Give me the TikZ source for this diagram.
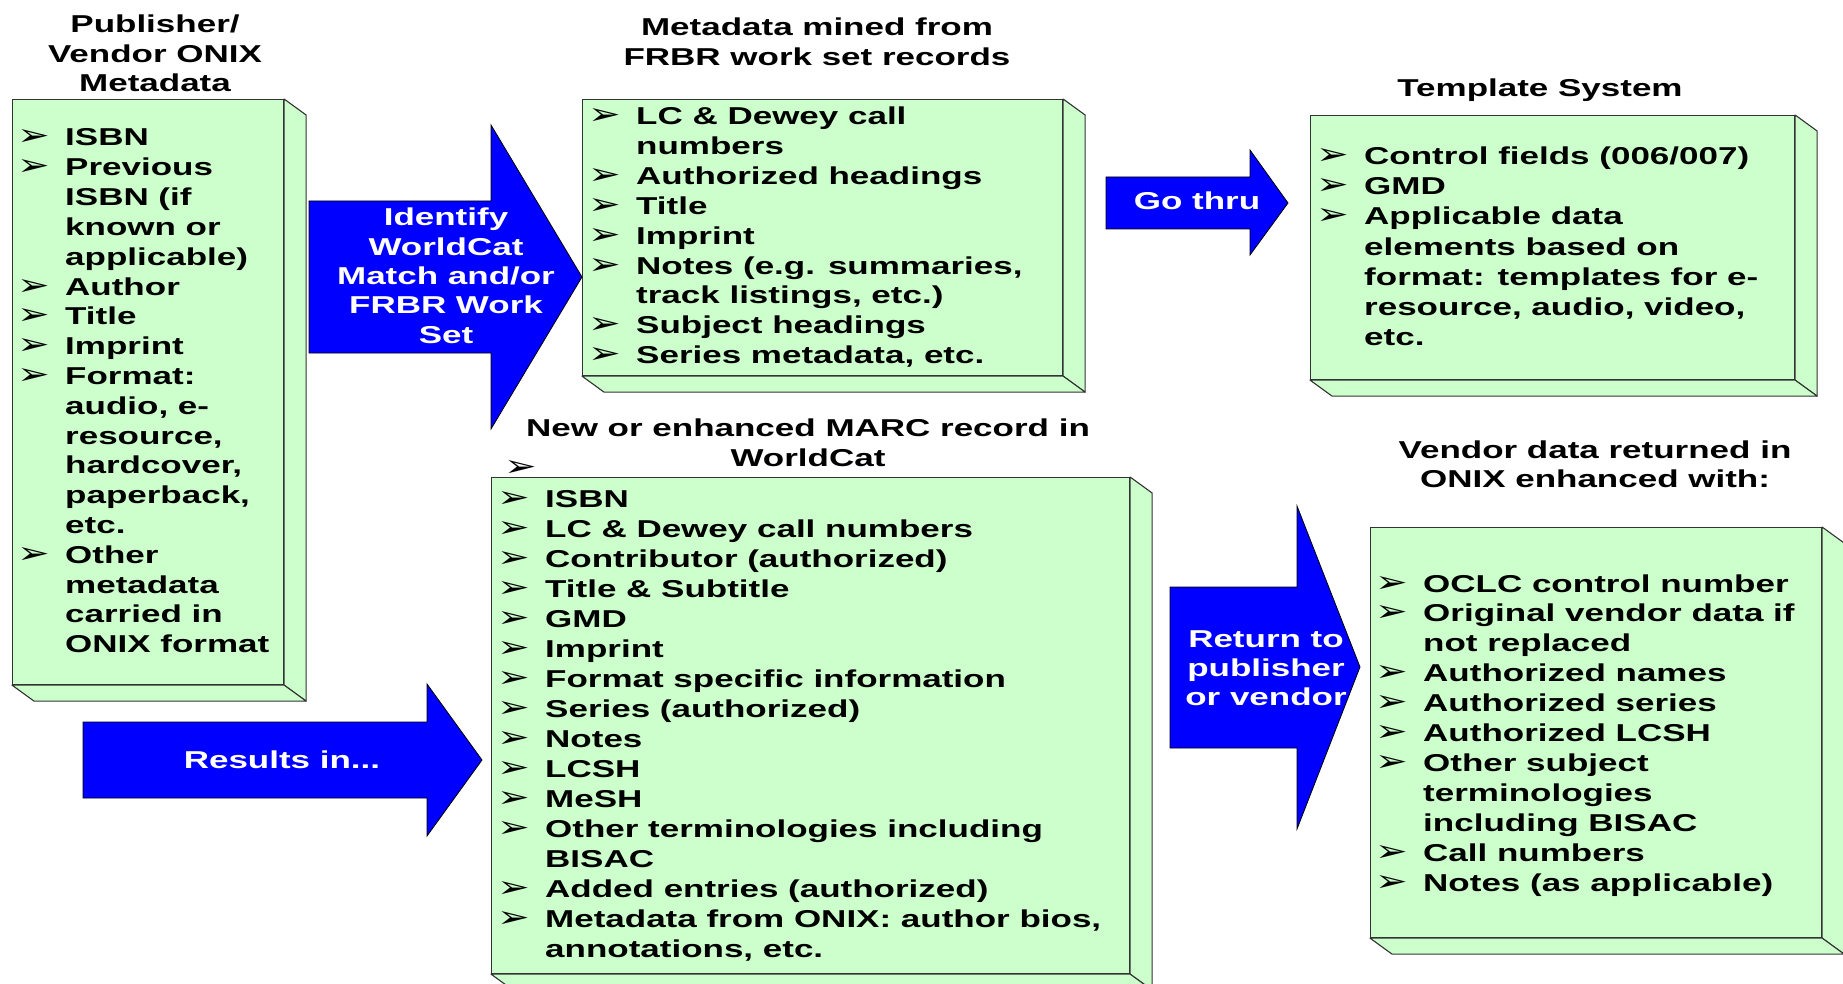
\documentclass[tikz,border=0pt]{standalone}
\usepackage{fontspec}
\setmainfont{Liberation Sans}[FakeStretch=1.434]
\newfontfamily\bulletfont{DejaVu Sans}[FakeStretch=1.3]
\usetikzlibrary{calc}
\definecolor{boxgreen}{HTML}{CCFFCC}
\definecolor{arrowblue}{HTML}{0000FF}
\newcommand\bulletglyph{{\bulletfont\mdseries\fontsize{30}{30}\selectfont ➢}}
\newcommand\bl{\llap{\bulletglyph\hspace*{15pt}}}
\newcommand\threedots{...}
% name, x, first baseline y, pitch, options, list of lines
\newcommand\textlines[6]{\foreach \t [count=\i] in {#6} {\node[txt, #5] (#1-\i) at (#2, {#3+(\i-1)*#4}) {\t};}}
\newcommand\depthfaces[1]{%
  \draw[face] (#1.north east) -- ++(22,16) -- ($(#1.south east)+(22,16)$) -- (#1.south east) -- cycle;
  \draw[face] (#1.south west) -- ++(22,16) -- ($(#1.south east)+(22,16)$) -- (#1.south east) -- cycle;}
\begin{document}
\begin{tikzpicture}[x=1pt, y=-1pt,
  txt/.style={inner sep=0, font=\bfseries\fontsize{24.4}{29.9}\selectfont},
  gbox/.style={draw=black!80, fill=boxgreen, line width=1.1pt, inner sep=0, anchor=north west},
  face/.style={draw=black!80, fill=boxgreen, line width=1.1pt, line join=round},
  barrow/.style={draw=black, fill=arrowblue, line width=0.8pt, line join=miter}]
\useasboundingbox[fill=white] (0,0) rectangle (1843,984);

% ---------- boxes ----------
\node[gbox, minimum width=271pt, minimum height=585pt] (pub) at (12,99) {};
\depthfaces{pub}
\node[gbox, minimum width=480pt, minimum height=276pt] (frbr) at (582,99) {};
\depthfaces{frbr}
\node[gbox, minimum width=484pt, minimum height=264pt] (tpl) at (1310,115) {};
\depthfaces{tpl}
\node[gbox, minimum width=638pt, minimum height=496pt] (marc) at (491,477) {};
\depthfaces{marc}
\node[gbox, minimum width=451pt, minimum height=410pt] (vend) at (1370,527) {};
\depthfaces{vend}

% ---------- block arrows ----------
\draw[barrow] (309,201) -- (491,201) -- (491,125) -- (582,277) -- (491,429) -- (491,353) -- (309,353) -- cycle;
\draw[barrow] (1106,177) -- (1250,177) -- (1250,150) -- (1288,203) -- (1250,255) -- (1250,229) -- (1106,229) -- cycle;
\draw[barrow] (83,722) -- (427,722) -- (427,684) -- (482,760) -- (427,836) -- (427,798) -- (83,798) -- cycle;
\draw[barrow] (1170,587) -- (1297,587) -- (1297,506) -- (1360,667) -- (1297,829) -- (1297,748) -- (1170,748) -- cycle;

% ---------- titles ----------
\textlines{pubT}{155}{33}{29.5}{anchor=base}{{Publisher/},{Vendor ONIX},{Metadata}}
\textlines{frbrT}{817}{36}{30}{anchor=base}{{Metadata mined from},{FRBR work set records}}
\textlines{tplT}{1540}{97}{30}{anchor=base}{{Template System}}
\textlines{marcT}{808}{436}{30}{anchor=base}{{New or enhanced MARC record in},{WorldCat}}
\textlines{vendT}{1595}{458}{29}{anchor=base}{{Vendor data returned in},{ONIX enhanced with:}}

% ---------- arrow labels ----------
\textlines{idT}{446}{226}{29.3}{anchor=base, text=white}{{Identify},{WorldCat},{Match and/or},{FRBR Work},{Set}}
\textlines{goT}{1197}{210}{30}{anchor=base, text=white}{{Go thru}}
\textlines{resT}{282}{768}{30}{anchor=base, text=white}{{Results in\threedots}}
\textlines{retT}{1266}{647}{29}{anchor=base, text=white}{{Return to},{publisher},{or vendor}}

% ---------- box contents ----------
\textlines{pubL}{65}{146}{29.8}{anchor=base west}{{\bl ISBN},{\bl Previous},{ISBN (if},{known or},{applicable)},{\bl Author},{\bl Title},{\bl Imprint},{\bl Format:},{audio, e-},{resource,},{hardcover,},{paperback,},{etc.},{\bl Other},{metadata},{carried in},{ONIX format}}
\textlines{frbrL}{636}{125}{29.8}{anchor=base west}{{\bl LC \& Dewey call},{numbers},{\bl Authorized headings},{\bl Title},{\bl Imprint},{\bl Notes (e.g. summaries,},{track listings, etc.)},{\bl Subject headings},{\bl Series metadata, etc.}}
\textlines{tplL}{1364}{165}{30}{anchor=base west}{{\bl Control fields (006/007)},{\bl GMD},{\bl Applicable data},{elements based on},{format: templates for e-},{resource, audio, video,},{etc.}}
\textlines{marcL}{545}{507}{30}{anchor=base west}{{\bl ISBN},{\bl LC \& Dewey call numbers},{\bl Contributor (authorized)},{\bl Title \& Subtitle},{\bl GMD},{\bl Imprint},{\bl Format specific information},{\bl Series (authorized)},{\bl Notes},{\bl LCSH},{\bl MeSH},{\bl Other terminologies including},{BISAC},{\bl Added entries (authorized)},{\bl Metadata from ONIX: author bios,},{annotations, etc.}}
\textlines{vendL}{1423}{592}{29.9}{anchor=base west}{{\bl OCLC control number},{\bl Original vendor data if},{not replaced},{\bl Authorized names},{\bl Authorized series},{\bl Authorized LCSH},{\bl Other subject},{terminologies},{including BISAC},{\bl Call numbers},{\bl Notes (as applicable)}}

% stray bullet above the MARC box
\node[txt, anchor=base west] (stray) at (504,476) {\bulletglyph};
\end{tikzpicture}
\end{document}
